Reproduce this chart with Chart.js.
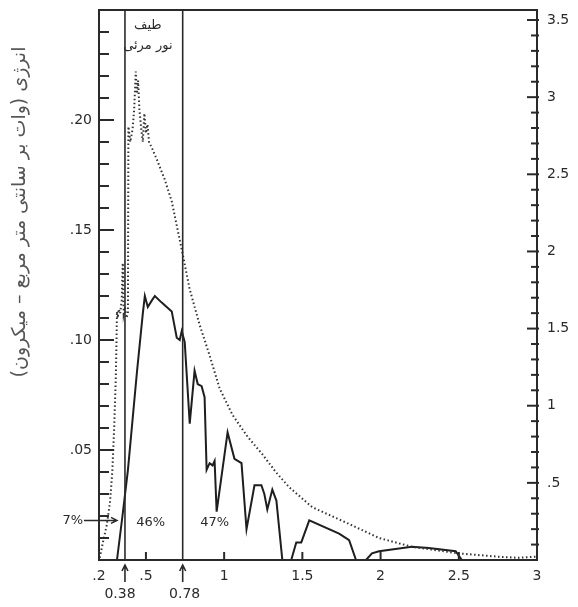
<!DOCTYPE html>
<html>
<head>
<meta charset="utf-8">
<script src="https://cdn.jsdelivr.net/npm/chart.js@4.4.1/dist/chart.umd.min.js"></script>
<style>
  html, body { margin: 0; padding: 0; background: #fff; }
</style>
</head>
<body>
<canvas id="chart" width="578" height="607"></canvas>
<script>
// tick labels
const xTicks = [0.2, 0.5, 1, 1.5, 2, 2.5, 3];
const xTickLabels = ['.2', '.5', '1', '1.5', '2', '2.5', '3'];
const leftMajor = [0.05, 0.10, 0.15, 0.20];
const leftLabels = ['.05', '.10', '.15', '.20'];
const rightMajor = [0.5, 1, 1.5, 2, 2.5, 3, 3.5];
const rightLabels = ['.5', '1', '1.5', '2', '2.5', '3', '3.5'];

// energy outside the atmosphere (dotted), wavelength in micron
const outsideX = [0.205, 0.225, 0.25, 0.27, 0.285, 0.297, 0.307, 0.312, 0.315, 0.32, 0.326, 0.335, 0.345, 0.352, 0.358,
  0.366, 0.375, 0.385, 0.388, 0.4, 0.415, 0.425, 0.435, 0.442, 0.45, 0.458, 0.47, 0.48, 0.49, 0.5, 0.51, 0.52, 0.54,
  0.57, 0.62, 0.665, 0.735, 0.78, 0.843, 0.907, 0.971, 1.053, 1.15, 1.245, 1.33, 1.417, 1.563, 1.78, 1.99, 2.2, 2.5,
  2.75, 2.88, 2.99];
const outsideY = [0.001, 0.008, 0.016, 0.026, 0.04, 0.06, 0.082, 0.1, 0.113, 0.11, 0.114, 0.112, 0.118, 0.135, 0.112,
  0.115, 0.11, 0.112, 0.197, 0.19, 0.196, 0.205, 0.222, 0.212, 0.218, 0.205, 0.196, 0.19, 0.203, 0.194, 0.198, 0.19, 0.187,
  0.182, 0.173, 0.163, 0.139, 0.123, 0.107, 0.093, 0.078, 0.066, 0.056, 0.048, 0.04, 0.033, 0.024, 0.017, 0.01, 0.006, 0.003,
  0.0015, 0.001, 0.0015];

// energy at sea level (solid)
const seaX = [0.315, 0.35, 0.385, 0.442, 0.48, 0.493, 0.512, 0.538, 0.557, 0.601, 0.665, 0.697, 0.716, 0.729, 0.748,
  0.78, 0.811, 0.831, 0.856, 0.875, 0.888, 0.907, 0.926, 0.939, 0.952, 1.022, 1.066, 1.111, 1.143, 1.194, 1.238, 1.257,
  1.276, 1.308, 1.334, 1.372, 1.429, 1.461, 1.493, 1.544, 1.735, 1.799, 1.843, 1.907, 1.945, 1.99, 2.2, 2.308, 2.48,
  2.52, 2.99];
const seaY = [0, 0.02, 0.041, 0.085, 0.112, 0.12, 0.115, 0.118, 0.12, 0.117, 0.113, 0.101, 0.1, 0.104, 0.099,
  0.062, 0.086, 0.08, 0.079, 0.074, 0.041, 0.044, 0.043, 0.045, 0.022, 0.058, 0.046, 0.044, 0.014, 0.034, 0.034, 0.03,
  0.023, 0.032, 0.027, 0, 0, 0.008, 0.008, 0.018, 0.012, 0.009, 0, 0, 0.003, 0.004, 0.006, 0.0055, 0.004,
  0, 0];

// visible band limits and shares
const visibleBounds = [0.366, 0.735];
const boundLabels = ['0.38', '0.78'];
const shareLabels = ['7%', '46%', '47%'];

const yTitle = 'انرژی (وات بر سانتی متر مربع – میکرون)';
const bandTitle = ['طیف', 'نور مرئی'];

const ink = '#2a2a2a';
const tickFont = '14px "DejaVu Sans"';

function toPoints(xs, ys) {
  return xs.map((x, i) => ({ x, y: ys[i] }));
}

function near(list, v, tol) {
  return list.findIndex((m) => Math.abs(m - v) < tol);
}

// minor tick positions: count steps of a given size
function steps(count, size) {
  const out = [];
  for (let k = 1; k <= count; k += 1) out.push({ value: Math.round(k * size * 1000) / 1000 });
  return out;
}

function fitVertical(width) {
  return (s) => {
    s.width = width;
    s.paddingTop = 0;
    s.paddingBottom = 0;
  };
}

const framePlugin = {
  id: 'frame',
  afterDatasetsDraw(chart) {
    const { ctx, chartArea: a, scales } = chart;
    const { x, y, y2 } = scales;
    ctx.save();
    ctx.strokeStyle = ink;
    ctx.lineWidth = 2;
    ctx.strokeRect(a.left, a.top, a.right - a.left, a.bottom - a.top);

    // inner tick marks, left axis
    y.ticks.forEach((t) => {
      const py = y.getPixelForValue(t.value);
      const len = near(leftMajor, t.value, 1e-6) >= 0 ? 15 : 10;
      ctx.beginPath();
      ctx.moveTo(a.left, py);
      ctx.lineTo(a.left + len, py);
      ctx.stroke();
    });
    // inner tick marks, right axis
    y2.ticks.forEach((t) => {
      const py = y2.getPixelForValue(t.value);
      const len = near(rightMajor, t.value, 1e-6) >= 0 ? 10 : 6;
      ctx.beginPath();
      ctx.moveTo(a.right + 2, py);
      ctx.lineTo(a.right - len, py);
      ctx.stroke();
    });
    // bottom ticks
    xTicks.slice(1, -1).forEach((v) => {
      const px = x.getPixelForValue(v);
      ctx.beginPath();
      ctx.moveTo(px, a.bottom);
      ctx.lineTo(px, a.bottom - 8);
      ctx.stroke();
    });

    // visible band
    ctx.lineWidth = 1.6;
    visibleBounds.forEach((v, i) => {
      const px = x.getPixelForValue(v);
      ctx.beginPath();
      ctx.moveTo(px, a.top);
      ctx.lineTo(px, a.bottom);
      ctx.stroke();
      // arrow under the axis
      ctx.beginPath();
      ctx.moveTo(px, a.bottom + 22);
      ctx.lineTo(px, a.bottom + 5);
      ctx.moveTo(px - 3, a.bottom + 11);
      ctx.lineTo(px, a.bottom + 5);
      ctx.lineTo(px + 3, a.bottom + 11);
      ctx.stroke();
      ctx.fillStyle = ink;
      ctx.font = tickFont;
      ctx.textAlign = 'center';
      ctx.textBaseline = 'middle';
      ctx.fillText(boundLabels[i], px + (i === 0 ? -5 : 2), a.bottom + 34);
    });

    // shares
    ctx.font = '13px "DejaVu Sans"';
    ctx.fillStyle = ink;
    ctx.textBaseline = 'middle';
    const ay = y.getPixelForValue(0.018);
    const ax = x.getPixelForValue(0.315);
    ctx.textAlign = 'right';
    ctx.fillText(shareLabels[0], 83, ay);
    ctx.lineWidth = 1.5;
    ctx.beginPath();
    ctx.moveTo(84, ay);
    ctx.lineTo(ax, ay);
    ctx.moveTo(ax - 6, ay - 3);
    ctx.lineTo(ax, ay);
    ctx.lineTo(ax - 6, ay + 3);
    ctx.stroke();
    ctx.textAlign = 'center';
    ctx.fillText(shareLabels[1], x.getPixelForValue(0.53), y.getPixelForValue(0.017));
    ctx.fillText(shareLabels[2], x.getPixelForValue(0.94), y.getPixelForValue(0.017));

    // band title
    ctx.direction = 'rtl';
    ctx.font = '13px "DejaVu Sans"';
    const bx = (x.getPixelForValue(visibleBounds[0]) + x.getPixelForValue(visibleBounds[1])) / 2 - 6;
    ctx.fillText(bandTitle[0], bx, a.top + 16);
    ctx.fillText(bandTitle[1], bx, a.top + 36);

    // y axis title
    ctx.translate(20, 212);
    ctx.rotate(-Math.PI / 2);
    ctx.font = '19px "DejaVu Sans"';
    ctx.fillStyle = '#555';
    ctx.fillText(yTitle, 0, 0);
    ctx.restore();
  },
};

const ctx = document.getElementById('chart');

new Chart(ctx, {
  type: 'line',
  data: {
    datasets: [
      {
        label: 'outside',
        data: toPoints(outsideX, outsideY),
        borderColor: '#333',
        borderWidth: 2,
        borderDash: [1.5, 2.5],
        pointRadius: 0,
        tension: 0,
        clip: 3,
      },
      {
        label: 'sea level',
        data: toPoints(seaX, seaY),
        borderColor: '#1e1e1e',
        borderWidth: 2,
        pointRadius: 0,
        tension: 0,
        clip: 3,
      },
    ],
  },
  options: {
    responsive: false,
    animation: false,
    layout: { padding: { top: 10, left: 0, right: 0, bottom: 0 } },
    plugins: { legend: { display: false }, tooltip: { enabled: false } },
    scales: {
      x: {
        type: 'linear',
        min: 0.2,
        max: 3,
        afterBuildTicks: (s) => { s.ticks = xTicks.map((v) => ({ value: v })); },
        afterFit: (s) => { s.height = 47; s.paddingLeft = 0; s.paddingRight = 0; },
        ticks: {
          autoSkip: false,
          maxRotation: 0,
          padding: 8,
          color: ink,
          font: { family: 'DejaVu Sans', size: 14 },
          callback: (v) => xTickLabels[near(xTicks, v, 1e-6)],
        },
        grid: { display: false, drawTicks: false },
        border: { display: false },
      },
      y: {
        min: 0,
        max: 0.25,
        afterBuildTicks: (s) => { s.ticks = steps(24, 0.01); },
        afterFit: fitVertical(99),
        ticks: {
          autoSkip: false,
          padding: 7,
          color: ink,
          font: { family: 'DejaVu Sans', size: 14 },
          callback: (v) => {
            const i = near(leftMajor, v, 1e-6);
            return i >= 0 ? leftLabels[i] : '';
          },
        },
        grid: { display: false, drawTicks: false },
        border: { display: false },
      },
      y2: {
        position: 'right',
        min: 0,
        max: 3.565,
        afterBuildTicks: (s) => { s.ticks = steps(35, 0.1); },
        afterFit: fitVertical(41),
        ticks: {
          autoSkip: false,
          padding: 10,
          color: ink,
          font: { family: 'DejaVu Sans', size: 14 },
          callback: (v) => {
            const i = near(rightMajor, v, 1e-6);
            return i >= 0 ? rightLabels[i] : '';
          },
        },
        grid: { display: false, drawTicks: false },
        border: { display: false },
      },
    },
  },
  plugins: [framePlugin],
});
</script>
</body>
</html>
